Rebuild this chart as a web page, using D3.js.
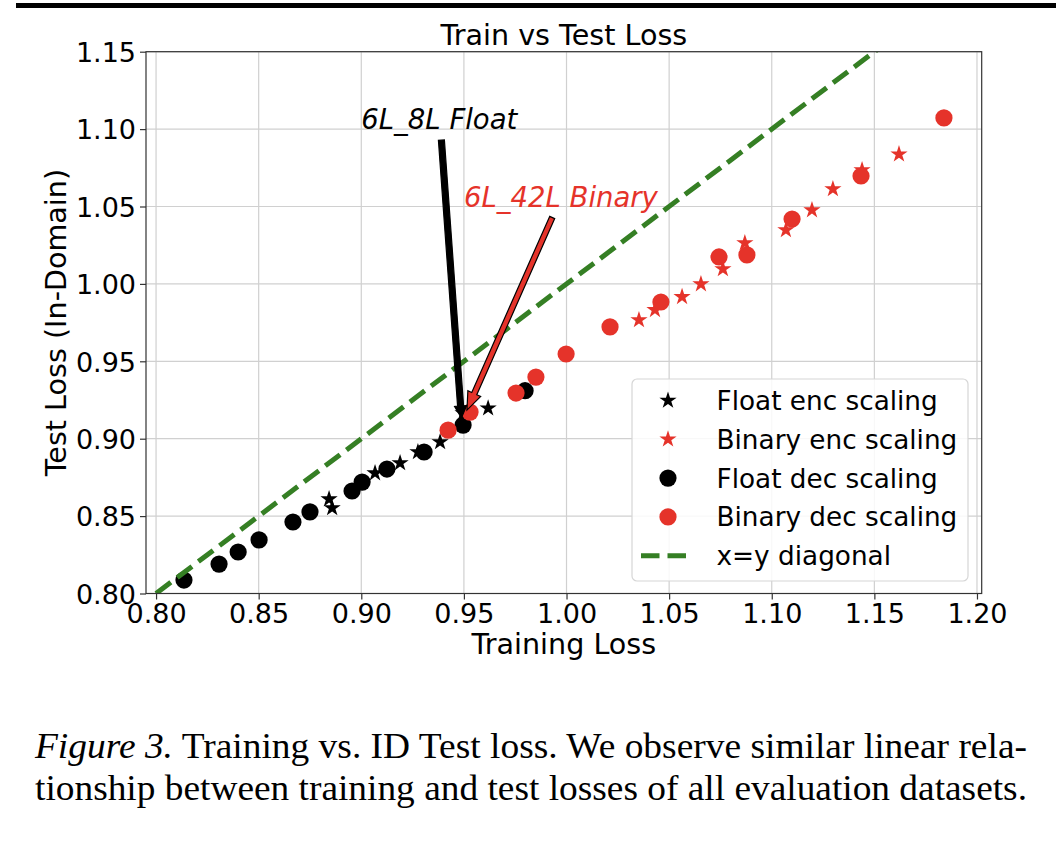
<!DOCTYPE html>
<html><head><meta charset="utf-8">
<script src="https://cdn.jsdelivr.net/npm/d3@7"></script>
<style>
html,body{margin:0;padding:0;background:#fff;}
svg{display:block;}
</style></head><body>
<svg id="chart" width="1056" height="842"></svg>
<script>
// ---------- data ----------
const xTicks = [0.80, 0.85, 0.90, 0.95, 1.00, 1.05, 1.10, 1.15, 1.20];
const yTicks = [0.80, 0.85, 0.90, 0.95, 1.00, 1.05, 1.10, 1.15];

const floatEncX = [0.8843, 0.8858, 0.9067, 0.9189, 0.9276, 0.9384, 0.9496, 0.9618];
const floatEncY = [0.8610, 0.8552, 0.8778, 0.8843, 0.8914, 0.8979, 0.9165, 0.9197];

const binaryEncX = [1.0353, 1.0431, 1.0563, 1.0655, 1.0762, 1.0869, 1.1069, 1.1196, 1.1298, 1.1440, 1.1620];
const binaryEncY = [0.9767, 0.9832, 0.9916, 0.9999, 1.0096, 1.0264, 1.0348, 1.0477, 1.0613, 1.0736, 1.0838];

const floatDecX = [0.8136, 0.8307, 0.8400, 0.8502, 0.8667, 0.8750, 0.8955, 0.9004, 0.9125, 0.9306, 0.9496, 0.9798];
const floatDecY = [0.8087, 0.8190, 0.8268, 0.8346, 0.8462, 0.8527, 0.8662, 0.8720, 0.8804, 0.8914, 0.9088, 0.9310];

const binaryDecX = [0.9423, 0.9530, 0.9754, 0.9851, 0.9998, 1.0212, 1.0460, 1.0743, 1.0879, 1.1099, 1.1435, 1.1839];
const binaryDecY = [0.9055, 0.9172, 0.9295, 0.9398, 0.9547, 0.9722, 0.9883, 1.0174, 1.0187, 1.0419, 1.0697, 1.1072];

const diagonal = [0.80, 1.20];

const legendLabels = ["Float enc scaling", "Binary enc scaling", "Float dec scaling", "Binary dec scaling", "x=y diagonal"];

const annFloat = {text: "6L_8L Float", textX: 0.90, textY: 1.10, tipX: 0.9488, tipY: 0.9134};
const annBinary = {text: "6L_42L Binary", textX: 0.95, textY: 1.05, tipX: 0.9515, tipY: 0.9185};

const titleText = "Train vs Test Loss";
const xLabelText = "Training Loss";
const yLabelText = "Test Loss (In-Domain)";
const captionItalic = "Figure 3.";
const captionLine1 = " Training vs. ID Test loss. We observe similar linear rela-";
const captionLine2 = "tionship between training and test losses of all evaluation datasets.";

// ---------- styles ----------
const RED = "#e5332a";
const GREEN = "#357f24";
const FONT = "DejaVu Sans, sans-serif";

const svg = d3.select("#chart");
const W = 1056, H = 842;
const L = 146, R = 981.7, T = 51.7, B = 593.5;

// top rule
svg.append("rect").attr("x", 16).attr("y", 3).attr("width", W - 16).attr("height", 5).attr("fill", "#000");

const x = d3.scaleLinear().domain([0.7951, 1.2023]).range([L, R]);
const y = d3.scaleLinear().domain([0.80, 1.15]).range([B, T]);

// grid
const grid = svg.append("g");
grid.selectAll(".gx").data(xTicks).join("line")
  .attr("x1", d => x(d)).attr("x2", d => x(d)).attr("y1", T).attr("y2", B)
  .attr("stroke", "#d0d0d0").attr("stroke-width", 1.2);
grid.selectAll(".gy").data(yTicks).join("line")
  .attr("x1", L).attr("x2", R).attr("y1", d => y(d)).attr("y2", d => y(d))
  .attr("stroke", "#d0d0d0").attr("stroke-width", 1.2);

// clip
svg.append("defs").append("clipPath").attr("id", "clip")
  .append("rect").attr("x", L).attr("y", T).attr("width", R - L).attr("height", B - T);

const plot = svg.append("g").attr("clip-path", "url(#clip)");

const starPath = d3.symbol().type(d3.symbolStar).size(92);
const circR = 8.6;

function stars(xs, ys, color) {
  plot.append("g").selectAll("path").data(xs.map((v, i) => [v, ys[i]])).join("path")
    .attr("d", starPath).attr("transform", d => `translate(${x(d[0])},${y(d[1])})`)
    .attr("fill", color);
}
function circles(xs, ys, color) {
  plot.append("g").selectAll("circle").data(xs.map((v, i) => [v, ys[i]])).join("circle")
    .attr("cx", d => x(d[0])).attr("cy", d => y(d[1])).attr("r", circR).attr("fill", color);
}
stars(floatEncX, floatEncY, "#000");
stars(binaryEncX, binaryEncY, RED);
circles(floatDecX, floatDecY, "#000");
circles(binaryDecX, binaryDecY, RED);

// diagonal
plot.append("line")
  .attr("x1", x(diagonal[0])).attr("y1", y(diagonal[0]))
  .attr("x2", x(diagonal[1])).attr("y2", y(diagonal[1]))
  .attr("stroke", GREEN).attr("stroke-width", 5).attr("stroke-dasharray", "18.5,8");

// axes
const xAxis = svg.append("g").attr("transform", `translate(0,${B})`)
  .call(d3.axisBottom(x).tickValues(xTicks).tickFormat(d3.format(".2f")).tickSize(6).tickPadding(4).tickSizeOuter(0));
const yAxis = svg.append("g").attr("transform", `translate(${L},0)`)
  .call(d3.axisLeft(y).tickValues(yTicks).tickFormat(d3.format(".2f")).tickSize(6).tickPadding(4).tickSizeOuter(0));
[xAxis, yAxis].forEach(a => {
  a.select(".domain").remove();
  a.selectAll("line").attr("stroke", "#333").attr("stroke-width", 1.2);
  a.selectAll("text").attr("font-family", FONT).attr("font-size", 27).attr("fill", "#000");
});
xAxis.selectAll("text").attr("dy", "0.72em");
yAxis.selectAll("text").attr("dy", "0.36em");

// spines
svg.append("rect").attr("x", L).attr("y", T).attr("width", R - L).attr("height", B - T)
  .attr("fill", "none").attr("stroke", "#333").attr("stroke-width", 1.2);

// annotations
function arrowPoly(x0, y0, x1, y1, w, hw, hl) {
  const dx = x1 - x0, dy = y1 - y0, len = Math.hypot(dx, dy);
  const ux = dx / len, uy = dy / len, nx = -uy, ny = ux;
  const bx = x1 - ux * hl, by = y1 - uy * hl;
  return [
    [x0 + nx * w / 2, y0 + ny * w / 2], [bx + nx * w / 2, by + ny * w / 2],
    [bx + nx * hw / 2, by + ny * hw / 2], [x1, y1],
    [bx - nx * hw / 2, by - ny * hw / 2], [bx - nx * w / 2, by - ny * w / 2],
    [x0 - nx * w / 2, y0 - ny * w / 2]
  ].map(p => p.join(",")).join(" ");
}
function annotate(a, color, fill, stroke, w, hw, hl) {
  const t = svg.append("text").attr("x", x(a.textX)).attr("y", y(a.textY))
    .attr("font-family", FONT).attr("font-style", "italic").attr("font-size", 27.5)
    .attr("fill", color).text(a.text);
  const bb = t.node().getBBox();
  const cx = bb.x + bb.width / 2, cy = bb.y + bb.height / 2;
  const tx = x(a.tipX), ty = y(a.tipY);
  const yb = bb.y + bb.height + 4;
  const sx = cx + (tx - cx) * (yb - cy) / (ty - cy);
  svg.append("polygon").attr("points", arrowPoly(sx, yb, tx, ty, w, hw, hl))
    .attr("fill", fill).attr("stroke", stroke).attr("stroke-width", 1.2).attr("stroke-linejoin", "miter");
}
annotate(annFloat, "#000", "#000", "#000", 6, 12, 12);
annotate(annBinary, RED, RED, "#000", 5.5, 14, 18);

// legend
const lg = svg.append("g");
lg.append("rect").attr("x", 632).attr("y", 379).attr("width", 336).attr("height", 202).attr("rx", 5)
  .attr("fill", "#fff").attr("fill-opacity", 0.85).attr("stroke", "#d6d6d6").attr("stroke-width", 1.2);
const rowY = i => 400.5 + i * 38.8;
const mx = 668;
lg.append("path").attr("d", starPath).attr("transform", `translate(${mx},${rowY(0)})`).attr("fill", "#000");
lg.append("path").attr("d", starPath).attr("transform", `translate(${mx},${rowY(1)})`).attr("fill", RED);
lg.append("circle").attr("cx", mx).attr("cy", rowY(2)).attr("r", circR).attr("fill", "#000");
lg.append("circle").attr("cx", mx).attr("cy", rowY(3)).attr("r", circR).attr("fill", RED);
lg.append("line").attr("x1", 641).attr("x2", 687).attr("y1", rowY(4)).attr("y2", rowY(4))
  .attr("stroke", GREEN).attr("stroke-width", 5).attr("stroke-dasharray", "18.5,8");
lg.selectAll(".lt").data(legendLabels).join("text")
  .attr("x", 716.5).attr("y", (d, i) => rowY(i)).attr("dy", "0.36em")
  .attr("font-family", FONT).attr("font-size", 26.3).attr("fill", "#000").text(d => d);

// titles
svg.append("text").attr("x", (L + R) / 2).attr("y", 45).attr("text-anchor", "middle")
  .attr("font-family", FONT).attr("font-size", 28.6).text(titleText);
svg.append("text").attr("x", (L + R) / 2).attr("y", 654).attr("text-anchor", "middle")
  .attr("font-family", FONT).attr("font-size", 28.6).text(xLabelText);
svg.append("text").attr("transform", `translate(66,${(T + B) / 2}) rotate(-90)`).attr("text-anchor", "middle")
  .attr("font-family", FONT).attr("font-size", 28.6).text(yLabelText);

// caption (both lines span the text column)
const CAP = "Liberation Serif, Times New Roman, serif";
const capLeft = 35, capRight = 1027;
const c1 = svg.append("text").attr("x", capLeft).attr("y", 758).attr("font-family", CAP).attr("font-size", 35)
  .attr("fill", "#000").attr("textLength", capRight - capLeft).attr("lengthAdjust", "spacingAndGlyphs");
c1.append("tspan").attr("font-style", "italic").text(captionItalic);
c1.append("tspan").text(captionLine1);
svg.append("text").attr("x", capLeft).attr("y", 800).attr("font-family", CAP).attr("font-size", 35)
  .attr("fill", "#000").attr("textLength", capRight - capLeft).attr("lengthAdjust", "spacingAndGlyphs")
  .text(captionLine2);
</script>
</body></html>
